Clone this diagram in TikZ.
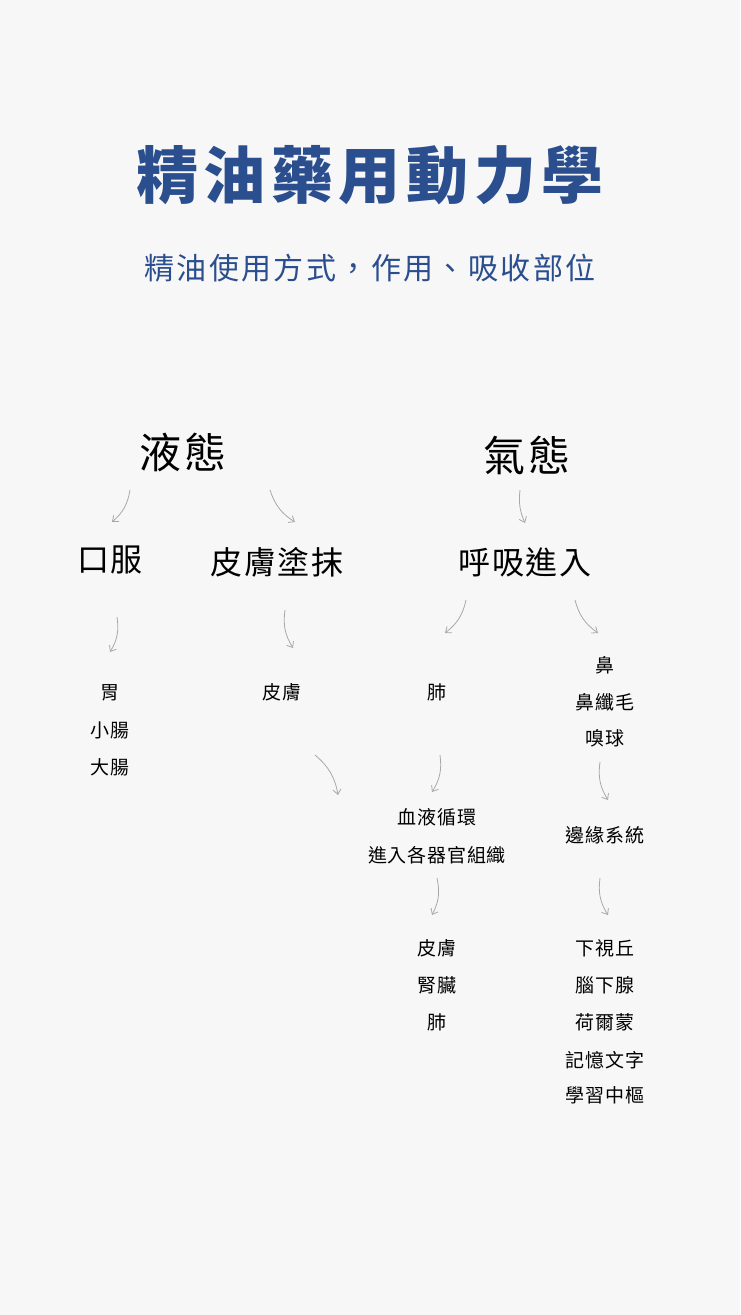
\documentclass[tikz,border=0pt]{standalone}
\usepackage{fontspec}
\setmainfont{Noto Sans CJK TC}
\definecolor{bg}{HTML}{F7F7F7}
\definecolor{ttl}{HTML}{2A4E8E}
\definecolor{arr}{HTML}{A8A8A8}
\usetikzlibrary{arrows.meta}
\begin{document}
\begin{tikzpicture}[x=1pt,y=-1pt,
  title/.style={text=ttl,font=\fontsize{62}{62}\selectfont\bfseries\addfontfeature{LetterSpace=9},inner sep=0},
  sub/.style={text=ttl,font=\fontsize{30}{30}\selectfont\addfontfeature{LetterSpace=8},inner sep=0},
  big/.style={font=\fontsize{42}{42}\selectfont\addfontfeature{LetterSpace=5},inner sep=0},
  mid/.style={font=\fontsize{32}{32}\selectfont\addfontfeature{LetterSpace=6},inner sep=0},
  sm/.style={font=\fontsize{19}{19}\selectfont\addfontfeature{LetterSpace=4},inner sep=0},
  conn/.style={draw=arr,line width=0.8pt,-{Straight Barb[length=5pt,width=8pt]}}]
\fill[bg] (0,0) rectangle (740,1315);
\node[title] (t) at (370,175) {精油藥用動力學};
\node[sub] (s) at (370,268) {精油使用方式，作用、吸收部位};
\node[big] (liq) at (183,452) {液態};
\node[big] (gas) at (527,455) {氣態};
\node[mid] (oral) at (110,560) {口服};
\node[mid] (skin) at (277,562) {皮膚塗抹};
\node[mid] (br) at (525,562) {呼吸進入};
\node[sm] at (110,693) {胃};
\node[sm] at (110,730) {小腸};
\node[sm] at (110,767) {大腸};
\node[sm] at (282,692) {皮膚};
\node[sm] at (437,692) {肺};
\node[sm] at (605,665) {鼻};
\node[sm] at (605,702) {鼻纖毛};
\node[sm] at (605,738) {嗅球};
\node[sm] at (437,817) {血液循環};
\node[sm] at (437,855) {進入各器官組織};
\node[sm] at (605,835) {邊緣系統};
\node[sm] at (437,948) {皮膚};
\node[sm] at (437,985) {腎臟};
\node[sm] at (437,1022) {肺};
\node[sm] at (605,948) {下視丘};
\node[sm] at (605,985) {腦下腺};
\node[sm] at (605,1022) {荷爾蒙};
\node[sm] at (605,1060) {記憶文字};
\node[sm] at (605,1095) {學習中樞};
\foreach \a/\b/\c/\d/\bend in {130/490/112/522/20, 270/490/295/522/-20, 520/490/525/523/-15,
  117/617/110/652/20, 285/610/293/648/-20, 466/600/445/633/20, 575/600/598/633/-20,
  440/755/432/792/20, 315/755/338/795/20, 600/762/608/800/-20, 437/878/432/915/20, 600/878/608/915/-20}
  { \coordinate (p) at (\a,\b); \coordinate (q) at (\c,\d); \draw[conn] (p) to[bend left=\bend] (q); }
\end{tikzpicture}
\end{document}
